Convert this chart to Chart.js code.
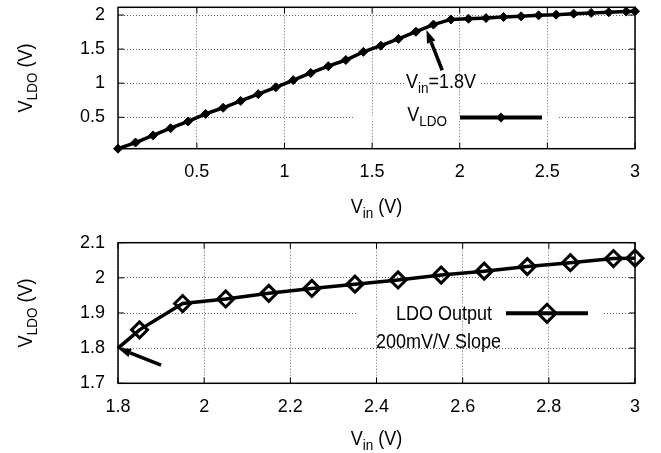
<!DOCTYPE html>
<html>
<head>
<meta charset="utf-8">
<script src="https://cdn.jsdelivr.net/npm/chart.js@4"></script>
<style>
  html, body { margin: 0; padding: 0; background: #fff; }
  #wrap { position: relative; width: 661px; height: 453px; }
  canvas { position: absolute; left: 0; }
</style>
</head>
<body>
<div id="wrap">
  <canvas id="topChart" width="661" height="220" style="top:0;width:661px;height:220px"></canvas>
  <canvas id="botChart" width="661" height="233" style="top:220px;width:661px;height:233px"></canvas>
</div>
<script>
// upper plot: full sweep
const TOP_VIN  = [0.05, 0.15, 0.25, 0.35, 0.45, 0.55, 0.65, 0.75, 0.85, 0.95, 1.05, 1.15, 1.25, 1.35, 1.45, 1.55,
                  1.65, 1.75, 1.85, 1.95, 2.05, 2.15, 2.25, 2.35, 2.45, 2.55, 2.65, 2.75, 2.85, 2.95, 3.0];
const TOP_VLDO = [0.04, 0.13, 0.235, 0.34, 0.44, 0.55, 0.64, 0.74, 0.84, 0.94, 1.045, 1.15, 1.25, 1.34, 1.46, 1.55,
                  1.65, 1.755, 1.86, 1.935, 1.945, 1.955, 1.97, 1.98, 1.995, 2.005, 2.02, 2.03, 2.04, 2.05, 2.055];
const TOP_X_TICKS = [0.5, 1, 1.5, 2, 2.5, 3];
const TOP_X_LABELS = ['0.5', '1', '1.5', '2', '2.5', '3'];
const TOP_Y_TICKS = [0.5, 1, 1.5, 2];
const TOP_Y_LABELS = ['0.5', '1', '1.5', '2'];

// lower plot: regulation region
const BOT_VIN  = [1.8, 1.85, 1.95, 2.05, 2.15, 2.25, 2.35, 2.45, 2.55, 2.65, 2.75, 2.85, 2.95, 3.0];
const BOT_VLDO = [1.8, 1.852, 1.927, 1.94, 1.956, 1.97, 1.982, 1.994, 2.008, 2.019, 2.032, 2.043, 2.055, 2.056];
const BOT_X_TICKS = [1.8, 2, 2.2, 2.4, 2.6, 2.8, 3];
const BOT_X_LABELS = ['1.8', '2', '2.2', '2.4', '2.6', '2.8', '3'];
const BOT_Y_TICKS = [1.7, 1.8, 1.9, 2, 2.1];
const BOT_Y_LABELS = ['1.7', '1.8', '1.9', '2', '2.1'];

const FONT = "'Liberation Sans', Arial, sans-serif";
const MAIN_PX = 20, SUB_PX = 15, SQUEEZE = 0.9;

function xy(xs, ys) {
    return xs.map((x, i) => ({ x: x, y: ys[i] }));
}

// text with subscripts: parts = [[text, isSub], ...], slightly condensed
function drawRich(ctx, parts, x, y, align) {
    const widths = parts.map(([t, sub]) => {
        ctx.font = (sub ? SUB_PX : MAIN_PX) + 'px ' + FONT;
        return ctx.measureText(t).width * SQUEEZE;
    });
    const total = widths.reduce((a, b) => a + b, 0);
    let cx = align === 'center' ? x - total / 2 : align === 'right' ? x - total : x;
    ctx.textAlign = 'left';
    ctx.textBaseline = 'alphabetic';
    ctx.fillStyle = '#000';
    parts.forEach(([t, sub], i) => {
        ctx.save();
        ctx.font = (sub ? SUB_PX : MAIN_PX) + 'px ' + FONT;
        ctx.translate(cx, y + (sub ? 5 : 0));
        ctx.scale(SQUEEZE, 1);
        ctx.fillText(t, 0, 0);
        ctx.restore();
        cx += widths[i];
    });
}

function drawArrow(ctx, x1, y1, x2, y2) {
    const ang = Math.atan2(y2 - y1, x2 - x1);
    const len = 13, half = 4.5;
    const bx = x2 - len * Math.cos(ang), by = y2 - len * Math.sin(ang);
    ctx.save();
    ctx.strokeStyle = '#000';
    ctx.fillStyle = '#000';
    ctx.lineWidth = 3.5;
    ctx.beginPath();
    ctx.moveTo(x1, y1);
    ctx.lineTo(bx, by);
    ctx.stroke();
    ctx.beginPath();
    ctx.moveTo(x2, y2);
    ctx.lineTo(bx + half * Math.sin(ang), by - half * Math.cos(ang));
    ctx.lineTo(bx - half * Math.sin(ang), by + half * Math.cos(ang));
    ctx.closePath();
    ctx.fill();
    ctx.restore();
}

// frame, inner tick marks, legend gaps, labels and arrows
const decorPlugin = {
    id: 'decor',
    beforeDatasetsDraw(chart, args, opts) {
        const { ctx, chartArea: a, scales } = chart;
        ctx.save();
        ctx.fillStyle = '#fff';
        (opts.gaps || []).forEach(g => {
            const y = scales.y.getPixelForValue(g.y);
            ctx.fillRect(g.x1, y - 1.5, g.x2 - g.x1, 3);
        });
        ctx.strokeStyle = '#000';
        ctx.lineWidth = 1.5;
        ctx.strokeRect(a.left, a.top, a.right - a.left, a.bottom - a.top);
        ctx.lineWidth = 1;
        ctx.beginPath();
        scales.x.ticks.forEach(t => {
            const x = scales.x.getPixelForValue(t.value);
            ctx.moveTo(x, a.bottom); ctx.lineTo(x, a.bottom - 6);
            ctx.moveTo(x, a.top); ctx.lineTo(x, a.top + 6);
        });
        scales.y.ticks.forEach(t => {
            const y = scales.y.getPixelForValue(t.value);
            ctx.moveTo(a.left, y); ctx.lineTo(a.left + 6, y);
            ctx.moveTo(a.right, y); ctx.lineTo(a.right - 6, y);
        });
        ctx.stroke();
        ctx.restore();
    },
    afterDatasetsDraw(chart, args, opts) {
        const { ctx, chartArea: a, scales } = chart;
        ctx.save();
        (opts.arrows || []).forEach(ar => {
            drawArrow(ctx,
                scales.x.getPixelForValue(ar.from[0]), scales.y.getPixelForValue(ar.from[1]),
                scales.x.getPixelForValue(ar.to[0]), scales.y.getPixelForValue(ar.to[1]));
        });
        (opts.texts || []).forEach(t => drawRich(ctx, t.parts, t.x, t.y, t.align));
        (opts.keys || []).forEach(k => {
            ctx.strokeStyle = '#000';
            ctx.lineWidth = 4;
            ctx.beginPath();
            ctx.moveTo(k.x1, k.y);
            ctx.lineTo(k.x2, k.y);
            ctx.stroke();
            const m = (k.x1 + k.x2) / 2;
            ctx.beginPath();
            ctx.moveTo(m, k.y - k.r); ctx.lineTo(m + k.r, k.y); ctx.lineTo(m, k.y + k.r); ctx.lineTo(m - k.r, k.y);
            ctx.closePath();
            if (k.filled) { ctx.fillStyle = '#000'; ctx.fill(); }
            else { ctx.lineWidth = 3; ctx.stroke(); }
        });
        // axis titles
        const cx = (a.left + a.right) / 2;
        drawRich(ctx, [['V', false], ['in', true], [' (V)', false]], cx, opts.xTitleY, 'center');
        ctx.translate(31.5, (a.top + a.bottom) / 2);
        ctx.rotate(-Math.PI / 2);
        drawRich(ctx, [['V', false], ['LDO', true], [' (V)', false]], 0, 0, 'center');
        ctx.restore();
    }
};

function axis(min, max, ticks, labels, fit, isX) {
    return {
        type: 'linear',
        min: min,
        max: max,
        afterBuildTicks: s => { s.ticks = ticks.map(v => ({ value: v })); },
        afterFit: s => {
            if (isX) s.height = fit; else s.width = fit;
            s.paddingLeft = 0; s.paddingRight = 0; s.paddingTop = 0; s.paddingBottom = 0;
        },
        ticks: {
            autoSkip: false,
            maxRotation: 0,
            padding: isX ? 13 : 13,
            color: '#000',
            font: { family: FONT, size: 18 },
            callback: (v, i) => labels[i]
        },
        grid: { color: 'rgba(0,0,0,0.6)', lineWidth: 1, drawTicks: false },
        border: { display: false, dash: [1, 2] }
    };
}

new Chart(document.getElementById('topChart'), {
    type: 'line',
    data: {
        datasets: [{
            label: 'VLDO',
            data: xy(TOP_VIN, TOP_VLDO),
            borderColor: '#000',
            borderWidth: 3.5,
            backgroundColor: '#000',
            pointStyle: 'rectRot',
            pointRadius: 4.5,
            pointBorderWidth: 1,
            tension: 0,
            clip: false
        }]
    },
    options: {
        responsive: false,
        animation: false,
        events: [],
        layout: { padding: { top: 7.3, right: 26, left: 0, bottom: 0 } },
        plugins: {
            legend: { display: false },
            tooltip: { enabled: false },
            decor: {
                xTitleY: 213,
                gaps: [{ y: 0.5, x1: 353, x2: 557 }, { y: 1, x1: 404, x2: 480 }],
                arrows: [{ from: [1.9, 1.19], to: [1.81, 1.78] }],
                texts: [
                    { parts: [['V', false], ['in', true], ['=1.8V', false]], x: 406, y: 88, align: 'left' },
                    { parts: [['V', false], ['LDO', true]], x: 447, y: 121, align: 'right' }
                ],
                keys: [{ x1: 460, x2: 542, y: 117.5, r: 5, filled: true }]
            }
        },
        scales: {
            x: axis(0.05, 3, TOP_X_TICKS, TOP_X_LABELS, 220 - 148.7, true),
            y: axis(0.04, 2.113, TOP_Y_TICKS, TOP_Y_LABELS, 118, false)
        }
    },
    plugins: [decorPlugin]
});

new Chart(document.getElementById('botChart'), {
    type: 'line',
    data: {
        datasets: [{
            label: 'LDO Output',
            data: xy(BOT_VIN, BOT_VLDO),
            borderColor: '#000',
            borderWidth: 3.5,
            backgroundColor: 'rgba(0,0,0,0)',
            pointStyle: 'rectRot',
            pointRadius: BOT_VIN.map((v, i) => i === 0 ? 0 : 8),
            pointBorderWidth: 3,
            tension: 0,
            clip: false
        }]
    },
    options: {
        responsive: false,
        animation: false,
        events: [],
        layout: { padding: { top: 22.7, right: 26, left: 0, bottom: 0 } },
        plugins: {
            legend: { display: false },
            tooltip: { enabled: false },
            decor: {
                xTitleY: 225,
                gaps: [{ y: 1.9, x1: 358, x2: 602 }],
                arrows: [{ from: [1.9, 1.752], to: [1.8, 1.8] }],
                texts: [
                    { parts: [['LDO Output', false]], x: 492, y: 99.5, align: 'right' },
                    { parts: [['200mV/V Slope', false]], x: 376, y: 128, align: 'left' }
                ],
                keys: [{ x1: 506, x2: 588, y: 93.3, r: 9, filled: false }]
            }
        },
        scales: {
            x: axis(1.8, 3, BOT_X_TICKS, BOT_X_LABELS, 233 - 163.3, true),
            y: axis(1.7, 2.1, BOT_Y_TICKS, BOT_Y_LABELS, 118, false)
        }
    },
    plugins: [decorPlugin]
});
</script>
</body>
</html>
